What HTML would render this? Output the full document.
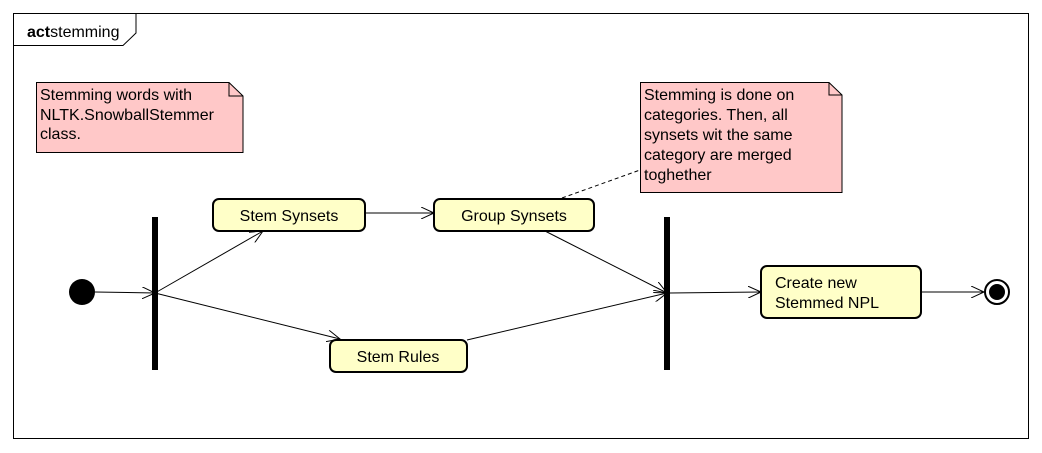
<!DOCTYPE html>
<html><head><style>body{margin:0;background:#fff}svg{display:block}text{font-family:"Liberation Sans",sans-serif;font-size:16px;fill:#000}</style></head><body>
<svg width="1042" height="453" viewBox="0 0 1042 453">
<defs><marker id="a" markerWidth="14" markerHeight="12" refX="13" refY="6" orient="auto" markerUnits="userSpaceOnUse"><path d="M0,0 L13,6 L0,12" fill="none" stroke="#000" stroke-width="1"/></marker></defs>
<rect x="13.5" y="13.5" width="1015" height="425" fill="#fff" stroke="#000"/>
<path d="M13.5,45.5 H123 L136,33 V13.5" fill="none" stroke="#000"/>
<text x="27" y="37"><tspan font-weight="bold">act</tspan>stemming</text>
<path d="M36.5,82.5 H229 L243,96 V152.5 H36.5 Z" fill="#ffc8c8" stroke="#000"/>
<path d="M229,82.5 V96 H243" fill="none" stroke="#000"/>
<text x="40" y="100">Stemming words with</text>
<text x="40" y="120">NLTK.SnowballStemmer</text>
<text x="40" y="139">class.</text>
<path d="M640.5,82.5 H829 L842,95 V192.5 H640.5 Z" fill="#ffc8c8" stroke="#000"/>
<path d="M829,82.5 V95 H842" fill="none" stroke="#000"/>
<text x="644" y="100">Stemming is done on</text>
<text x="644" y="120">categories. Then, all</text>
<text x="644" y="140">synsets wit the same</text>
<text x="644" y="160">category are merged</text>
<text x="644" y="180">toghether</text>
<line x1="562" y1="198" x2="640" y2="170" stroke="#000" stroke-dasharray="4,3"/>
<circle cx="82" cy="292" r="13" fill="#000"/>
<rect x="152" y="217" width="6" height="153" fill="#000"/>
<rect x="664" y="217" width="6" height="153" fill="#000"/>
<g stroke="#000" fill="none">
<line x1="95" y1="292" x2="155" y2="293" marker-end="url(#a)"/>
<line x1="155" y1="293" x2="263" y2="231" marker-end="url(#a)"/>
<line x1="155" y1="293" x2="340" y2="339" marker-end="url(#a)"/>
<line x1="365" y1="213" x2="434" y2="213" marker-end="url(#a)"/>
<line x1="545" y1="231" x2="667" y2="293" marker-end="url(#a)"/>
<line x1="467" y1="340" x2="667" y2="293" marker-end="url(#a)"/>
<line x1="670" y1="293" x2="761" y2="292" marker-end="url(#a)"/>
<line x1="921" y1="292" x2="984" y2="292" marker-end="url(#a)"/>
</g>
<g fill="#ffffc8" stroke="#000" stroke-width="2">
<rect x="213" y="199" width="152" height="32" rx="6"/>
<rect x="434" y="199" width="160" height="32" rx="6"/>
<rect x="330" y="340" width="137" height="32" rx="6"/>
<rect x="761" y="266" width="160" height="52" rx="6"/>
</g>
<text x="289" y="221" text-anchor="middle">Stem Synsets</text>
<text x="514" y="221" text-anchor="middle">Group Synsets</text>
<text x="398" y="362" text-anchor="middle">Stem Rules</text>
<text x="775" y="288">Create new</text>
<text x="775" y="308">Stemmed NPL</text>
<circle cx="997" cy="292" r="12" fill="#fff" stroke="#000" stroke-width="2"/>
<circle cx="997" cy="292" r="8" fill="#000"/>
</svg>
</body></html>
